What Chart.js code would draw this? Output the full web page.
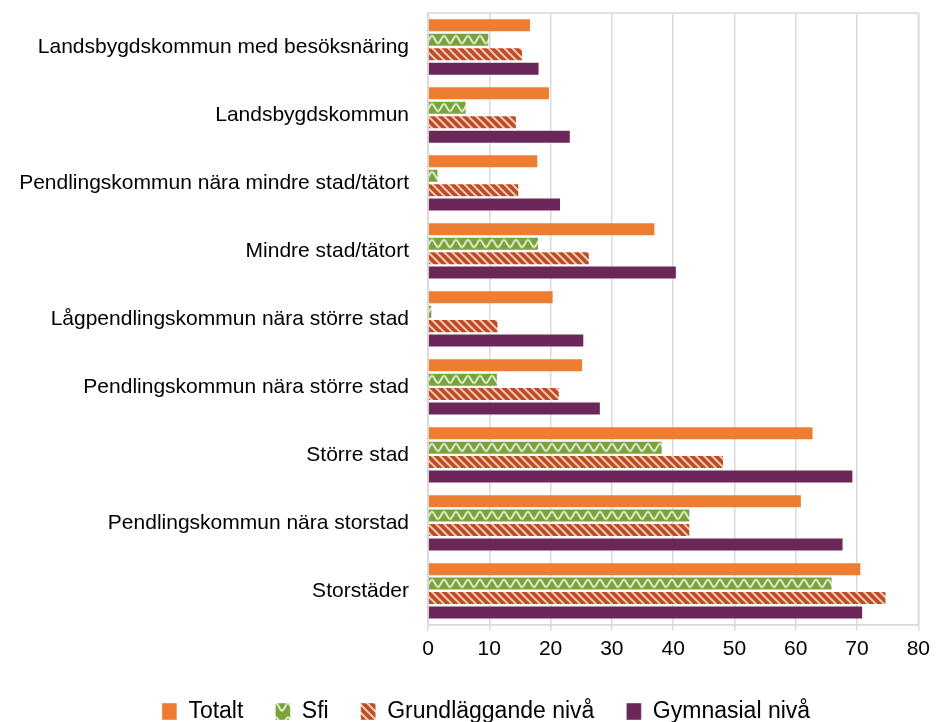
<!DOCTYPE html>
<html>
<head>
<meta charset="utf-8">
<script src="https://cdn.jsdelivr.net/npm/chart.js@4/dist/chart.umd.min.js"></script>
<style>
  html, body { margin: 0; padding: 0; background: #fff; }
  #wrap { width: 936px; height: 722px; }
</style>
</head>
<body>
<div id="wrap"><canvas id="myChart" width="936" height="722"></canvas></div>
<script>
const categories = [
  'Landsbygdskommun med besöksnäring',
  'Landsbygdskommun',
  'Pendlingskommun nära mindre stad/tätort',
  'Mindre stad/tätort',
  'Lågpendlingskommun nära större stad',
  'Pendlingskommun nära större stad',
  'Större stad',
  'Pendlingskommun nära storstad',
  'Storstäder'
];
const seriesNames = ['Totalt', 'Sfi', 'Grundläggande nivå', 'Gymnasial nivå'];
const totalt = [16.8, 19.9, 18.0, 37.1, 20.5, 25.3, 62.9, 61.0, 70.7];
const sfi = [10.0, 6.3, 1.7, 18.1, 0.7, 11.4, 38.3, 42.8, 66.0];
const grund = [15.5, 14.5, 14.9, 26.4, 11.5, 21.5, 48.3, 42.8, 74.8];
const gymnasial = [18.2, 23.3, 21.7, 40.6, 25.5, 28.2, 69.4, 67.8, 71.0];
const xTicks = [0, 10, 20, 30, 40, 50, 60, 70, 80];

const FONT = '"Liberation Sans", Arial, sans-serif';
const WAVE_H = 14;

function wavePattern() {
  const c = document.createElement('canvas');
  c.width = 12; c.height = WAVE_H;
  const g = c.getContext('2d');
  g.fillStyle = '#7aa33c';
  g.fillRect(0, 0, 12, WAVE_H);
  g.strokeStyle = 'rgba(238,245,228,0.95)';
  g.lineWidth = 1.8;
  g.beginPath();
  for (let i = -1; i <= 13; i++) {
    const y = 7 - 3.8 * Math.cos(i / 12 * Math.PI * 2);
    if (i === -1) g.moveTo(i, y); else g.lineTo(i, y);
  }
  g.stroke();
  return g.createPattern(c, 'repeat');
}

function stripePattern() {
  const c = document.createElement('canvas');
  c.width = 8; c.height = 8;
  const g = c.getContext('2d');
  g.fillStyle = '#bf4d28';
  g.fillRect(0, 0, 8, 8);
  g.strokeStyle = 'rgba(250,225,210,0.9)';
  g.lineWidth = 1.9;
  g.beginPath();
  g.moveTo(-2, -2); g.lineTo(10, 10);
  g.moveTo(-10, -2); g.lineTo(2, 10);
  g.moveTo(6, -2); g.lineTo(18, 10);
  g.stroke();
  return g.createPattern(c, 'repeat');
}

const sfiFill = wavePattern();

// line the wave tiles up with the top of every Sfi bar
const alignWave = {
  id: 'alignWave',
  beforeDatasetsDraw(chart) {
    const bar = chart.getDatasetMeta(1).data[0];
    const y = chart.scales.y;
    const pitch = y.getPixelForValue(1) - y.getPixelForValue(0);
    const top = bar.y - bar.height / 2;
    const s = pitch / (5 * WAVE_H);
    sfiFill.setTransform(new DOMMatrix().translate(0, top).scale(1, s));
  }
};

const plotBorder = {
  id: 'plotBorder',
  beforeDatasetsDraw(chart) {
    const { ctx, chartArea: { left, top, right, bottom } } = chart;
    ctx.save();
    ctx.strokeStyle = '#d9d9d9';
    ctx.lineWidth = 1.5;
    ctx.strokeRect(left, top, right - left, bottom - top);
    ctx.restore();
  }
};

const legendShift = {
  id: 'legendShift',
  afterLayout(chart) {
    chart.legend.left += 50;
  }
};

const ctx = document.getElementById('myChart').getContext('2d');

const edge = 'rgba(255,255,255,0.4)';
const data = {
  labels: categories,
  datasets: [
    { label: seriesNames[0], data: totalt, backgroundColor: '#ed7d31', borderColor: edge, borderWidth: 1 },
    { label: seriesNames[1], data: sfi, backgroundColor: sfiFill, borderColor: edge, borderWidth: 1 },
    { label: seriesNames[2], data: grund, backgroundColor: stripePattern(), borderColor: edge, borderWidth: 1 },
    { label: seriesNames[3], data: gymnasial, backgroundColor: '#6a2758', borderColor: edge, borderWidth: 1 }
  ]
};

new Chart(ctx, {
  type: 'bar',
  data: data,
  options: {
    indexAxis: 'y',
    responsive: false,
    animation: false,
    categoryPercentage: 0.85,
    barPercentage: 0.97,
    layout: { padding: { top: 13, right: 14, left: 0, bottom: 0 } },
    scales: {
      x: {
        min: 0,
        max: 80,
        afterBuildTicks(scale) {
          scale.ticks = xTicks.map(v => ({ value: v }));
        },
        grid: { color: '#d9d9d9', lineWidth: 1.5, tickLength: 6, drawTicks: true },
        border: { display: true, color: '#d9d9d9', width: 1.5 },
        ticks: { color: '#000', padding: 6, font: { family: FONT, size: 21 } }
      },
      y: {
        afterFit(scale) {
          scale.width = 428;
          scale.paddingTop = 0;
          scale.paddingBottom = 0;
        },
        grid: { display: false, drawTicks: false },
        border: { display: true, color: '#d9d9d9', width: 1.5 },
        ticks: { color: '#000', padding: 19, font: { family: FONT, size: 21 } }
      }
    },
    plugins: {
      legend: {
        position: 'bottom',
        maxHeight: 54,
        labels: {
          boxWidth: 15,
          boxHeight: 17,
          padding: 32,
          color: '#000',
          font: { family: FONT, size: 23 }
        }
      },
      tooltip: { enabled: false }
    }
  },
  plugins: [alignWave, plotBorder, legendShift]
});
</script>
</body>
</html>
